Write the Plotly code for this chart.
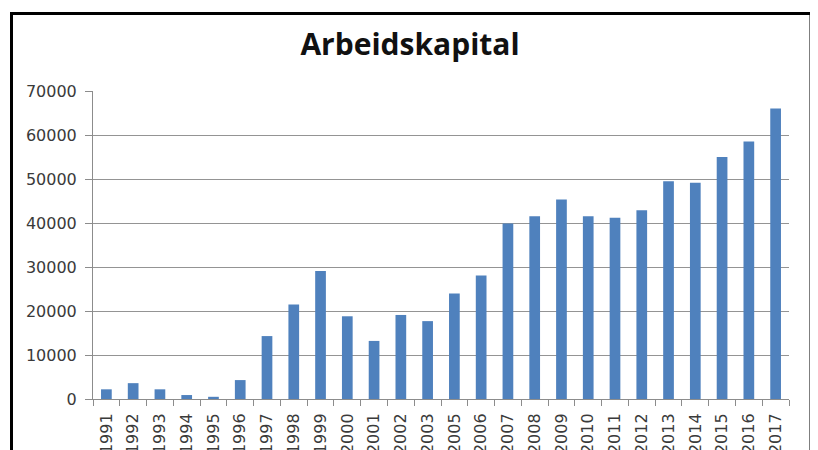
import plotly.graph_objects as go

years = ["1991", "1992", "1993", "1994", "1995", "1996", "1997", "1998", "1999",
         "2000", "2001", "2002", "2003", "2005", "2006", "2007", "2008", "2009",
         "2010", "2011", "2012", "2013", "2014", "2015", "2016", "2017"]
values = [2200, 3600, 2200, 900, 500, 4300, 14300, 21500, 29100,
          18800, 13200, 19100, 17700, 23950, 28050, 39900, 41550, 45350,
          41550, 41200, 42900, 49500, 49150, 55000, 58500, 66000]
y_ticks = [0, 10000, 20000, 30000, 40000, 50000, 60000, 70000]
title_text = "Arbeidskapital"

# page body has an 8px margin: the figure starts at (8, 8) in the window
OFF = 8
W, H = 818 - OFF, 450 - OFF
L, R, T, B = 93 - OFF, 818 - 789, 91 - OFF, 450 - 399
pw, ph = W - L - R, H - T - B

fig = go.Figure()
fig.add_trace(go.Bar(x=years, y=values, marker=dict(color="#4F81BD", line=dict(width=0)),
                     hoverinfo="x+y"))

tick_font = dict(family="DejaVu Sans", size=16, color="#3a3a3a")

fig.update_layout(
    width=W, height=H,
    margin=dict(l=L, r=R, t=T, b=B, autoexpand=False),
    paper_bgcolor="white", plot_bgcolor="white",
    bargap=0.6,
    showlegend=False,
    title=dict(text=title_text, x=(410 - OFF) / W, xanchor="center", xref="container",
               y=1 - (44 - OFF) / H, yanchor="middle", yref="container",
               font=dict(family="Open Sans", size=30, color="#111111", weight="bold")),
    xaxis=dict(type="category", tickangle=-90, tickfont=tick_font,
               showline=True, linecolor="#8c8c8c", linewidth=1,
               ticks="outside", ticklen=6, tickcolor="#8c8c8c", tickson="boundaries",
               showgrid=False, automargin=False, ticklabelstandoff=7),
    yaxis=dict(range=[0, 70000], tickvals=y_ticks, ticktext=[str(v) for v in y_ticks],
               tickfont=tick_font,
               showline=True, linecolor="#8c8c8c", linewidth=1,
               ticks="outside", ticklen=7, tickcolor="#8c8c8c",
               showgrid=True, gridcolor="#949494", gridwidth=1,
               zeroline=False, automargin=False, ticklabelstandoff=5),
)

# outer chart border (cropped at the bottom, like the reference)
fig.add_shape(type="rect", xref="paper", yref="paper",
              x0=(11.5 - 93) / pw, x1=(811 - 93) / pw,
              y0=(399 - 480) / ph, y1=(399 - 13.5) / ph,
              line=dict(color="black", width=3), fillcolor="rgba(0,0,0,0)", layer="above")

fig.write_html("out.html")
